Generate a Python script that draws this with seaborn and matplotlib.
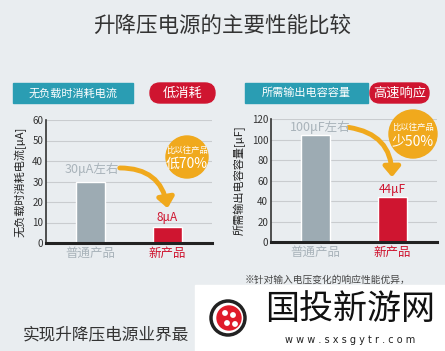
import matplotlib
matplotlib.use("Agg")
import matplotlib.pyplot as plt
from matplotlib.patches import FancyBboxPatch, Circle, FancyArrowPatch, Rectangle
import seaborn as sns

# data
categories = ["普通产品", "新产品"]
current_ua = [30, 8]          # 无负载时消耗电流 [μA]
capacitance_uf = [104, 44]    # 所需输出电容容量 [μF]
current_ticks = [0, 10, 20, 30, 40, 50, 60]
cap_ticks = [0, 20, 40, 60, 80, 100, 120]

BG = "#e9edf0"
GRAY_BAR = "#9dabb3"
RED = "#cf1530"
TEAL = "#2a9db3"
ORANGE = "#f0a91d"
FONTS = ["Noto Sans CJK SC", "DejaVu Sans"]

sns.set_theme(style="whitegrid")
plt.rcParams["font.family"] = FONTS

W, H = 445, 351
fig = plt.figure(figsize=(W / 100, H / 100), dpi=100)
fig.patch.set_facecolor(BG)


def px_axes(left, top, right, bottom):
    return fig.add_axes([left / W, 1 - bottom / H, (right - left) / W, (bottom - top) / H])


def style_bar_axes(ax, ticks, ylabel):
    ax.set_facecolor("none")
    ax.set_ylim(ticks[0], ticks[-1])
    ax.set_yticks(ticks)
    ax.set_xlim(-0.58, 1.58)
    ax.grid(axis="y", color="#c9cccf", lw=0.8)
    ax.grid(axis="x", visible=False)
    for s in ["top", "right"]:
        ax.spines[s].set_visible(False)
    ax.spines["left"].set_color("#333333")
    ax.spines["left"].set_linewidth(1.2)
    ax.spines["bottom"].set_color("#222222")
    ax.spines["bottom"].set_linewidth(2.2)
    ax.tick_params(axis="y", labelsize=7, colors="#333333", pad=2, length=0)
    ax.tick_params(axis="x", labelsize=9, length=0, pad=3)
    ax.set_xlabel("")
    ax.set_ylabel(ylabel, fontsize=8, color="#222222", labelpad=4)
    labels = ax.get_xticklabels()
    labels[0].set_color("#a9b3ba")
    labels[1].set_color(RED)


ax1 = px_axes(46, 120, 212, 243)
sns.barplot(x=categories, y=current_ua, hue=categories, palette=[GRAY_BAR, RED],
            width=0.37, legend=False, ax=ax1, saturation=1)
style_bar_axes(ax1, current_ticks, "无负载时消耗电流[μA]")

ax2 = px_axes(271, 119, 437, 242)
sns.barplot(x=categories, y=capacitance_uf, hue=categories, palette=[GRAY_BAR, RED],
            width=0.37, legend=False, ax=ax2, saturation=1)
style_bar_axes(ax2, cap_ticks, "所需输出电容容量[μF]")

# overlay in pixel coordinates for the decorations
ov = fig.add_axes([0, 0, 1, 1], zorder=5)
ov.set_xlim(0, W)
ov.set_ylim(H, 0)
ov.axis("off")
ov.patch.set_alpha(0)

ov.text(W / 2, 26, "升降压电源的主要性能比较", ha="center", va="center",
        fontsize=15.5, color="#333333")

# header tags
for x0, x1, txt in [(13, 133, "无负载时消耗电流"), (245, 368, "所需输出电容容量")]:
    ov.add_patch(Rectangle((x0, 83), x1 - x0, 20, color=TEAL))
    ov.text((x0 + x1) / 2, 93, txt, ha="center", va="center", color="white", fontsize=8)
for x0, x1, txt in [(150, 215, "低消耗"), (370, 429, "高速响应")]:
    ov.add_patch(FancyBboxPatch((x0, 83), x1 - x0, 20,
                                boxstyle="round,pad=0,rounding_size=10", color=RED))
    ov.text((x0 + x1) / 2, 93, txt, ha="center", va="center", color="white", fontsize=9.5)

# orange circles
for cx, cy, r, big in [(187, 157, 21, "低70%"), (413, 134, 24, "少50%")]:
    ov.add_patch(Circle((cx, cy), r, color=ORANGE, zorder=2))
    ov.text(cx, cy - 7, "比以往产品", ha="center", va="center", color="white",
            fontsize=6, zorder=3)
    ov.text(cx, cy + 7, big, ha="center", va="center", color="white",
            fontsize=10, zorder=3)

# value notes and arrows
ov.text(92, 169, "30μA左右", ha="center", va="center", color="#a9b3ba", fontsize=9)
ov.text(167, 217, "8μA", ha="center", va="center", color=RED, fontsize=8.5)
ov.text(320, 127, "100μF左右", ha="center", va="center", color="#a9b3ba", fontsize=9)
ov.text(392, 189, "44μF", ha="center", va="center", color=RED, fontsize=8.5)

for start, end in [((117, 168), (168, 211)), ((346, 127), (392, 180))]:
    ov.add_patch(FancyArrowPatch(start, end, connectionstyle="arc3,rad=-0.45",
                                 arrowstyle="-|>,head_length=6,head_width=5",
                                 color=ORANGE, lw=3.5, zorder=1))

ov.text(245, 280, "※针对输入电压变化的响应性能优异，", ha="left", va="center",
        fontsize=7, color="#444444")
ov.text(23, 335, "实现升降压电源业界最", ha="left", va="center",
        fontsize=12, color="#333333")

# watermark box
ov.add_patch(Rectangle((195, 285), W - 195, H - 285, color="white", zorder=6))
ov.add_patch(Circle((228, 318), 17, facecolor="white", edgecolor="#222222", lw=2.5, zorder=7))
ov.add_patch(Circle((229, 318), 12, color="#e01b2a", zorder=7))
for dx, dy in [(-4, -5), (4, -3), (-2, 5), (6, 6)]:
    ov.add_patch(Circle((229 + dx, 318 + dy), 2.2, color="white", zorder=8))
ov.text(350, 310, "国投新游网", ha="center", va="center", fontsize=24.5,
        color="#111111", zorder=7)
ov.text(350, 340, "w w w . s x s g y t r . c o m", ha="center", va="center",
        fontsize=7, color="#222222", zorder=7, family="DejaVu Sans")

fig.savefig("out.png", dpi=100, facecolor=BG)
